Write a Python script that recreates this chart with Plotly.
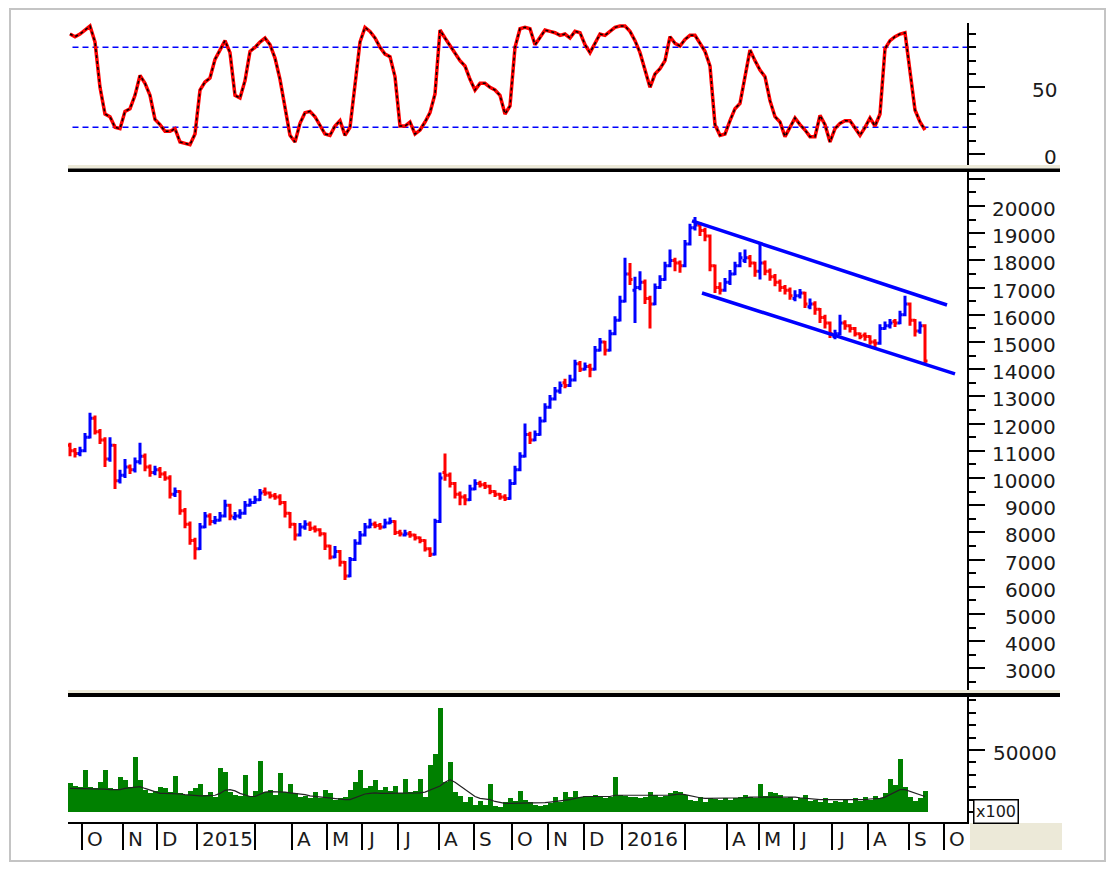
import plotly.graph_objects as go

# ---------------- data (one bar = ~3 trading sessions, Sep 2014 - Sep 2016) ----------------
close = [11000, 10900, 11000, 11500, 12200, 11700, 11400, 10700, 11200, 9900,
         10100, 10400, 10300, 10600, 10800, 10400, 10200, 10300, 10150, 10000,
         9400, 9500, 8800, 8300, 7700, 7400, 8200, 8600, 8400, 8450,
         8600, 9000, 8600, 8600, 8700, 9000, 9100, 9200, 9450, 9450,
         9350, 9300, 9100, 8700, 8300, 7900, 8200, 8300, 8150, 8100,
         7950, 7500, 7100, 7300, 6900, 6400, 7000, 7600, 7900, 8200,
         8300, 8250, 8200, 8350, 8400, 8000, 7950, 7950, 7900, 7800,
         7700, 7400, 7200, 8400, 10000, 10100, 9800, 9400, 9300, 9200,
         9600, 9800, 9750, 9700, 9500, 9400, 9300, 9250, 9800, 10300,
         10800, 11600, 11400, 11600, 12100, 12600, 12900, 13200, 13400, 13400,
         13600, 14200, 14000, 14100, 14000, 14700, 15000, 14700, 15300, 15800,
         16500, 17500, 17300, 17000, 17200, 16600, 16400, 17000, 17300, 17800,
         18000, 17900, 17800, 18600, 19200, 19300, 19100, 18900, 17800, 17000,
         16900, 17200, 17500, 17800, 18100, 18100, 17900, 17600, 17900, 17600,
         17400, 17200, 17000, 16900, 16700, 16700, 16800, 16400, 16400, 16200,
         15900, 15700, 15300, 15300, 15700, 15600, 15500, 15300, 15200, 15200,
         15000, 14950, 15500, 15600, 15700, 15700, 16000, 16400, 15800, 15400,
         15600, 14300]

open_ = [11200, 11000, 10900, 11000, 11500, 12200, 11700, 11400, 10700, 11200,
         9900, 10100, 10400, 10300, 10600, 10800, 10400, 10200, 10300, 10150,
         10000, 9400, 9500, 8800, 8300, 7700, 7400, 8200, 8600, 8400,
         8450, 8600, 9000, 8550, 8600, 8700, 9000, 9100, 9200, 9500,
         9450, 9350, 9300, 9100, 8700, 8300, 7900, 8200, 8300, 8150,
         8100, 7950, 7500, 7100, 7300, 6900, 6400, 7000, 7600, 7900,
         8200, 8300, 8250, 8200, 8350, 8400, 8000, 7900, 7950, 7900,
         7800, 7700, 7400, 7200, 8400, 10200, 10100, 9800, 9400, 9300,
         9200, 9600, 9800, 9750, 9700, 9500, 9400, 9300, 9250, 9800,
         10300, 10800, 11600, 11400, 11600, 12100, 12600, 12900, 13200, 13500,
         13400, 13600, 14200, 14000, 14100, 14000, 14700, 15000, 14700, 15300,
         15800, 16500, 17500, 16900, 17000, 17200, 16600, 16400, 17000, 17300,
         17800, 18000, 17900, 17800, 18600, 19200, 19300, 19100, 18900, 17800,
         17000, 16900, 17200, 17500, 17800, 18000, 18100, 17900, 17600, 17900,
         17600, 17400, 17200, 17000, 16900, 16600, 16700, 16800, 16300, 16400,
         16200, 15900, 15700, 15200, 15300, 15700, 15600, 15500, 15300, 15250,
         15200, 15000, 14950, 15500, 15600, 15750, 15700, 16000, 16400, 15800,
         15400, 15600]

high = [11300, 11100, 11150, 11650, 12400, 12300, 11800, 11500, 11500, 11250,
        10300, 10700, 10500, 10750, 11300, 10900, 10500, 10450, 10400, 10250,
        10100, 9650, 9550, 8900, 8400, 7800, 8350, 8750, 8700, 8600,
        8750, 9200, 9050, 8750, 8850, 9150, 9250, 9350, 9600, 9650,
        9500, 9450, 9400, 9150, 8750, 8350, 8350, 8450, 8400, 8250,
        8150, 8000, 7550, 7500, 7350, 6950, 7100, 7750, 8050, 8350,
        8500, 8400, 8350, 8500, 8550, 8450, 8100, 8100, 8050, 7950,
        7850, 7750, 7450, 8500, 10200, 10900, 10200, 9850, 9500, 9400,
        9750, 9950, 9900, 9850, 9750, 9550, 9450, 9400, 9950, 10450,
        10950, 12000, 11700, 11750, 12250, 12750, 13050, 13350, 13550, 13650,
        13800, 14350, 14300, 14250, 14200, 14850, 15150, 15050, 15450, 15950,
        16700, 18100, 17900, 17400, 17600, 17300, 16700, 17150, 17450, 17950,
        18400, 18100, 18000, 18750, 19350, 19600, 19400, 19200, 18950, 17850,
        17200, 17350, 17650, 17950, 18300, 18400, 18200, 17950, 18600, 18000,
        17700, 17500, 17300, 17100, 17000, 16900, 16950, 16850, 16600, 16500,
        16250, 16000, 15750, 15450, 16000, 15800, 15650, 15550, 15350, 15350,
        15250, 15100, 15650, 15750, 15850, 15850, 16150, 16700, 16450, 15850,
        15750, 15650]

low = [10800, 10750, 10800, 10950, 11450, 11600, 11250, 10400, 10600, 9600,
       9800, 10000, 10150, 10200, 10500, 10250, 10050, 10100, 10000, 9900,
       9250, 9300, 8650, 8150, 7550, 7000, 7350, 8150, 8250, 8300,
       8400, 8550, 8450, 8450, 8500, 8650, 8950, 9050, 9150, 9350,
       9250, 9200, 9000, 8550, 8150, 7700, 7850, 8100, 8050, 8000,
       7850, 7350, 7000, 7050, 6750, 6250, 6350, 6950, 7550, 7850,
       8150, 8150, 8100, 8150, 8300, 7900, 7850, 7850, 7800, 7700,
       7600, 7300, 7100, 7150, 8350, 9900, 9650, 9250, 9000, 9000,
       9150, 9550, 9650, 9600, 9400, 9300, 9200, 9150, 9200, 9750,
       10250, 10750, 11250, 11350, 11550, 12050, 12550, 12850, 13100, 13300,
       13350, 13550, 13900, 13950, 13700, 13950, 14650, 14500, 14650, 15250,
       15750, 16450, 17100, 15700, 16900, 16400, 15500, 16350, 16950, 17250,
       17750, 17600, 17550, 17750, 18550, 19100, 18900, 18700, 17600, 16800,
       16750, 16850, 17100, 17450, 17750, 17900, 17750, 17400, 17300, 17450,
       17250, 17050, 16850, 16750, 16550, 16500, 16600, 16250, 16200, 16000,
       15700, 15500, 15150, 15100, 15250, 15450, 15350, 15200, 15100, 15050,
       14900, 14800, 14900, 15450, 15500, 15550, 15650, 15950, 15600, 15200,
       15300, 14200]

rsi = [90, 88, 90, 93, 96, 84, 50, 30, 28, 20,
       19, 32, 34, 44, 59, 53, 44, 26, 22, 17,
       17, 19, 9, 8, 7, 15, 48, 54, 57, 71,
       78, 85, 76, 44, 42, 55, 77, 80, 84, 87,
       82, 72, 56, 35, 14, 9, 23, 31, 32, 28,
       22, 15, 14, 21, 25, 14, 20, 52, 84, 95,
       92, 87, 80, 75, 73, 58, 21, 21, 24, 15,
       18, 24, 31, 45, 93, 87, 81, 76, 70, 66,
       56, 48, 53, 53, 50, 48, 44, 30, 36, 80,
       94, 95, 94, 82, 87, 93, 92, 91,
       89, 90, 87, 92, 91, 82, 76, 83, 90, 89,
       92, 95, 96, 96, 92, 85, 76, 62, 50, 60,
       64, 70, 88, 83, 81, 86, 89, 89, 83, 77,
       66, 22, 14, 15, 25, 34, 38, 58, 78, 70,
       63, 58, 40, 28, 24, 13, 20, 27, 22, 18,
       13, 13, 29, 22, 9, 19, 23, 25, 25, 19,
       14, 20, 27, 21, 30, 79, 85, 88, 90, 91,
       62, 33, 24, 18]

volume = [23000, 21000, 20000, 34000, 20000, 19000, 24000, 34000, 19000, 18000,
          28000, 26000, 20000, 44500, 26000, 18000, 15000, 17000, 20000, 19000,
          16000, 29000, 15000, 14000, 17000, 19000, 22500, 14000, 16000, 12000,
          35600, 32000, 16000, 14000, 13000, 30000, 13000, 17000, 41000, 16000,
          18000, 14000, 31700, 16000, 22500, 15000, 12000, 13000, 11000, 16000,
          11000, 18000, 15000, 10000, 11000, 12000, 18000, 24000, 34000, 19000,
          21000, 26000, 18000, 20000, 17000, 21000, 15000, 27000, 16000, 17000,
          27000, 12000, 38000, 47000, 84000, 24000, 40000, 16000, 13000, 8000,
          12000, 6000, 9000, 6000, 22500, 5000, 4000, 8000, 11000, 9000,
          17000, 10000, 8000, 6000, 5000, 6000, 7000, 12000,
          8000, 16000, 12000, 17000, 12000, 13000, 12000, 14000, 12000, 11000,
          12500, 28000, 14000, 13000, 12500, 12000, 11000, 12500, 16000, 14000,
          12000, 13000, 15000, 17000, 16000, 14000, 10000, 9000, 12000, 8000,
          11000, 10500, 10000, 11000, 9500, 11000, 12000, 14000, 12000, 11000,
          22500, 13000, 16000, 15000, 14000, 11000, 12500, 10000, 11000, 14000,
          9000, 10000, 8000, 11000, 7000, 9000, 8000, 10000, 7500, 11000,
          8500, 12000, 10000, 13000, 11000, 15000, 27000, 22000, 43000, 20000,
          12000, 9000, 11000, 17000]

vol_ma = [19000, 19000, 19000, 19000, 19000, 19000, 18500, 18500, 18000, 18000,
          18000, 19000, 19500, 20500, 20500, 19000, 17500, 16000, 15000, 15000,
          15000, 15000, 14500, 14000, 13500, 13000, 13000, 13000, 13000, 13500,
          15000, 17500, 18000, 17000, 15000, 13500, 12500, 12500, 14500, 16000,
          16500, 16500, 16500, 16000, 15500, 15000, 15000, 14000, 13000, 12500,
          12500, 12000, 11500, 10500, 10000, 10000, 10000, 11500, 13000, 14500,
          15000, 15500, 15000, 15000, 15000, 15000, 15000, 15000, 15000, 15000,
          15500, 16000, 17500, 19000, 21000, 24000, 26000, 24000, 21000, 18000,
          15000, 12500, 11000, 10500, 10000, 8500, 7500, 7000, 7000, 7000,
          7000, 7000, 7000, 7000, 7000, 7500, 8000, 8500,
          8500, 9000, 10000, 11000, 12000, 12500, 12500, 12500, 12500, 12500,
          12500, 13500, 13500, 13500, 13500, 13500, 13000, 13000, 13000, 13000,
          13000, 13000, 13500, 14000, 14500, 14000, 13000, 12000, 11500, 11000,
          11000, 11000, 11000, 11000, 11000, 11000, 11000, 11500, 12000, 12000,
          12500, 12500, 12500, 12500, 12500, 12500, 12500, 12000, 11500, 11000,
          10500, 10500, 10000, 10000, 10000, 10000, 9500, 9500, 9500, 9500,
          10000, 10000, 10500, 10500, 11000, 12000, 14000, 16000, 18000, 18000,
          16500, 15000, 13500, 12500]

# falling channel (bar index, price)
upper_bar = [124.4, 175.4]
upper_price = [19450, 16360]
lower_bar = [126.4, 177.0]
lower_price = [16800, 13830]

rsi_levels = [20, 80]
rsi_ticks = [0, 50]
price_ticks = [3000, 4000, 5000, 6000, 7000, 8000, 9000, 10000, 11000, 12000,
               13000, 14000, 15000, 16000, 17000, 18000, 19000, 20000]
volume_ticks = [50000]

# month starts (bar index) and labels
month_pos = [2.4, 10.6, 17.4, 25.4, 37.0, 44.4, 51.4, 58.4, 65.6, 73.8, 80.8, 88.4,
             95.6, 102.8, 110.4, 123.0, 131.4, 137.8, 144.8, 152.4, 159.6, 167.8, 174.8]
month_lab = ["O", "N", "D", "2015", "", "A", "M", "J", "J", "A", "S", "O",
             "N", "D", "2016", "", "A", "M", "J", "J", "A", "S", "O"]

# ---------------- figure ----------------
W, H = 1099, 854


def fx(p):
    return p / W


def fy(p):
    return 1 - p / H


bars = list(range(len(close)))
FONT = "DejaVu Sans"

fig = go.Figure()
fig.add_trace(go.Scatter(x=bars, y=rsi, mode="lines", line=dict(color="#FF0000", width=3.5),
                         xaxis="x", yaxis="y", hoverinfo="skip"))
fig.add_trace(go.Scatter(x=bars, y=rsi, mode="lines", line=dict(color="#000000", width=1.5, dash="3px,3px"),
                         xaxis="x", yaxis="y", hoverinfo="skip"))
fig.add_trace(go.Ohlc(x=bars, open=open_, high=high, low=low, close=close,
                      increasing=dict(line=dict(color="#0000FF", width=3)),
                      decreasing=dict(line=dict(color="#FF0000", width=3)),
                      tickwidth=0.5, xaxis="x2", yaxis="y2"))
fig.add_trace(go.Scatter(x=upper_bar, y=upper_price, mode="lines", line=dict(color="#0000FF", width=3.5),
                         xaxis="x2", yaxis="y2"))
fig.add_trace(go.Scatter(x=lower_bar, y=lower_price, mode="lines", line=dict(color="#0000FF", width=3.5),
                         xaxis="x2", yaxis="y2"))
fig.add_trace(go.Bar(x=bars, y=volume, marker=dict(color="#008000", line=dict(width=0)),
                     xaxis="x3", yaxis="y3"))
fig.add_trace(go.Scatter(x=bars, y=vol_ma, mode="lines", line=dict(color="#222222", width=1.2),
                         xaxis="x3", yaxis="y3"))

xdom = [fx(60), fx(959)]
xr = [-0.4, 179.4]
common_y = dict(side="right", showline=True, linecolor="black", linewidth=1.5, ticks="outside",
                ticklen=16, tickwidth=1.5, tickcolor="black", showticklabels=False,
                showgrid=False, zeroline=False, fixedrange=True)

fig.update_layout(
    width=W, height=H, margin=dict(l=0, r=0, t=0, b=0),
    paper_bgcolor="white", plot_bgcolor="white", showlegend=False, bargap=0,
    xaxis=dict(domain=xdom, range=xr, visible=False, anchor="y", fixedrange=True),
    xaxis2=dict(domain=xdom, range=xr, visible=False, anchor="y2", rangeslider=dict(visible=False), fixedrange=True),
    xaxis3=dict(domain=xdom, range=xr, anchor="y3", showline=True, linecolor="black", linewidth=2,
                ticks="outside", ticklen=26, tickwidth=1.5, tickcolor="black",
                tickvals=month_pos, showticklabels=False, showgrid=False, zeroline=False,
                rangeslider=dict(visible=False), fixedrange=True),
    yaxis=dict(domain=[fy(157), fy(15)], range=[-8.25, 98.27], anchor="x", tickvals=rsi_ticks,
               minor=dict(ticks="outside", ticklen=7, tickwidth=1.5, tickcolor="black", dtick=10, tick0=0),
               **common_y),
    yaxis2=dict(domain=[fy(682), fy(164)], range=[2206, 21250], anchor="x2", tick0=0, dtick=1000,
                minor=dict(ticks="outside", ticklen=7, tickwidth=1.5, tickcolor="black", dtick=500, tick0=0),
                **common_y),
    yaxis3=dict(domain=[fy(814), fy(689)], range=[-8065, 92742], anchor="x3", tick0=0, dtick=50000,
                minor=dict(ticks="outside", ticklen=7, tickwidth=1.5, tickcolor="black", dtick=10000, tick0=0),
                **common_y),
)

shapes = []
for lv in rsi_levels:
    shapes.append(dict(type="line", xref="x domain", yref="y", x0=0.005, x1=1, y0=lv, y1=lv,
                       line=dict(color="#0000FF", width=1.5, dash="6px,4px"), layer="below"))
# panel separators and frame
for (y0, y1, col) in [(157, 160.5, "#ECE9D8"), (160.5, 164, "#000000"),
                      (682, 685, "#ECE9D8"), (685, 689, "#000000")]:
    shapes.append(dict(type="rect", xref="paper", yref="paper", x0=fx(60), x1=fx(1052),
                       y0=fy(y1), y1=fy(y0), fillcolor=col, line=dict(width=0)))
shapes.append(dict(type="rect", xref="paper", yref="paper", x0=fx(962), x1=fx(1054),
                   y0=fy(842), y1=fy(815), fillcolor="#ECE9D8", line=dict(width=0)))
shapes.append(dict(type="rect", xref="paper", yref="paper", x0=fx(2), x1=fx(1097),
                   y0=fy(853), y1=fy(1), line=dict(color="#C4C4C4", width=2)))
fig.update_layout(shapes=shapes)

ann = []
lab_font = dict(family=FONT, size=20, color="#1A1A1A")
for v in rsi_ticks:
    ann.append(dict(xref="paper", yref="y", x=fx(1051), y=v, xanchor="right", yanchor="middle",
                    text=str(v), showarrow=False, font=lab_font, yshift=-3))
for v in price_ticks:
    ann.append(dict(xref="paper", yref="y2", x=fx(1050), y=v, xanchor="right", yanchor="middle",
                    text=str(v), showarrow=False, font=lab_font, yshift=-3))
for v in volume_ticks:
    ann.append(dict(xref="paper", yref="y3", x=fx(1051), y=v, xanchor="right", yanchor="middle",
                    text=str(v), showarrow=False, font=lab_font, yshift=-3))
for p, t in zip(month_pos, month_lab):
    if t:
        ann.append(dict(xref="x3", yref="paper", x=p, y=fy(831), xanchor="left", yanchor="middle",
                        xshift=3, text=t, showarrow=False, font=lab_font))
ann.append(dict(xref="paper", yref="paper", x=fx(965), y=fy(803), xanchor="left", yanchor="middle",
                text="x100", showarrow=False, font=dict(family=FONT, size=16, color="#1A1A1A"),
                bordercolor="black", borderwidth=1.5, borderpad=1, bgcolor="white", width=41, height=20))
fig.update_layout(annotations=ann)

fig.write_html("out.html")
